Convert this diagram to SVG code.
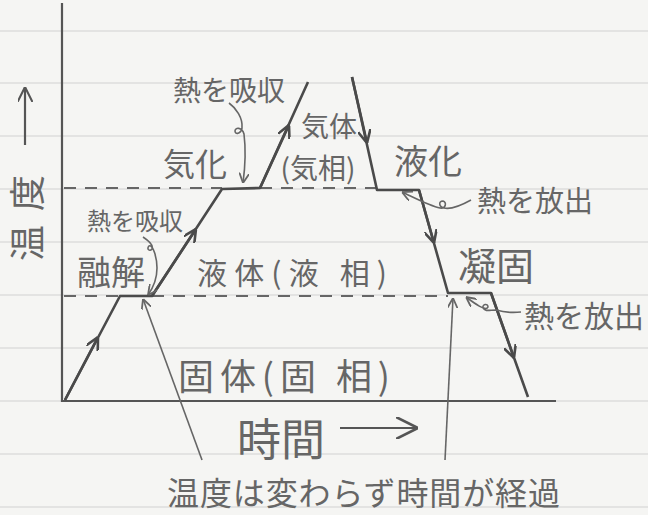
<svg xmlns="http://www.w3.org/2000/svg" width="648" height="515" viewBox="0 0 648 515">
<defs>
<style>
.rule{stroke:#d2d2d2;stroke-width:1.2}
.axis{stroke:#555;stroke-width:2.2;fill:none}
.curve{stroke:#4a4a4a;stroke-width:2.6;fill:none;stroke-linejoin:round}
.dash{stroke:#666;stroke-width:2;stroke-dasharray:12 9;fill:none}
.ptr{stroke:#666;stroke-width:1.6;fill:none}
.lbl{font-family:"Noto Sans CJK JP","Noto Sans",sans-serif;fill:#666}
</style>
<marker id="chev" viewBox="0 0 10 10" refX="10" refY="5" markerWidth="13" markerHeight="13" markerUnits="userSpaceOnUse" orient="auto"><path d="M0,0 L10,5 L0,10" fill="none" stroke="#4a4a4a" stroke-width="2"/></marker>
<marker id="chevS" viewBox="0 0 10 10" refX="10" refY="5" markerWidth="10" markerHeight="10" markerUnits="userSpaceOnUse" orient="auto"><path d="M0,0 L10,5 L0,10" fill="none" stroke="#666" stroke-width="1.8"/></marker>
<marker id="chevL" viewBox="0 0 10 10" refX="10" refY="5" markerWidth="22" markerHeight="22" markerUnits="userSpaceOnUse" orient="auto"><path d="M0,0 L10,5 L0,10" fill="none" stroke="#555" stroke-width="1.2"/></marker>
<marker id="chevA" viewBox="0 0 10 10" refX="10" refY="5" markerWidth="15" markerHeight="15" markerUnits="userSpaceOnUse" orient="auto"><path d="M0,0 L10,5 L0,10" fill="none" stroke="#555" stroke-width="1.4"/></marker>
</defs>
<rect width="648" height="515" fill="#f5f5f3"/>
<g id="paper">
<line class="rule" x1="0" y1="31" x2="648" y2="31"/>
<line class="rule" x1="0" y1="83" x2="648" y2="83"/>
<line class="rule" x1="0" y1="136" x2="648" y2="136"/>
<line class="rule" x1="0" y1="189" x2="648" y2="189"/>
<line class="rule" x1="0" y1="242" x2="648" y2="242"/>
<line class="rule" x1="0" y1="295" x2="648" y2="295"/>
<line class="rule" x1="0" y1="348" x2="648" y2="348"/>
<line class="rule" x1="0" y1="401" x2="648" y2="401"/>
<line class="rule" x1="0" y1="454" x2="648" y2="454"/>
<line class="rule" x1="0" y1="507" x2="648" y2="507"/>
</g>
<g id="axes">
<path class="axis" d="M62,3 L62,401 L556,401"/>
</g>
<g id="connectors">
<path class="dash" d="M64,188 L222,188 M260,188 L377,188"/>
<path class="dash" d="M64,296 L120,296 M152,296 L448,296"/>
<path class="curve" d="M65,400 L120,296 L152,296 L222,189 L260,188 L308,82"/>
<path class="curve" d="M352,77 L377,190 L419,190 L448,293 L491,293 L528,397"/>
<path class="curve" d="M65,400 L98,337" marker-end="url(#chev)"/>
<path class="curve" d="M152,296 L196,229" marker-end="url(#chev)"/>
<path class="curve" d="M260,188 L289,125" marker-end="url(#chev)"/>
<path class="curve" d="M352,77 L367,143" marker-end="url(#chev)"/>
<path class="curve" d="M419,190 L434,243" marker-end="url(#chev)"/>
<path class="curve" d="M491,293 L514,358" marker-end="url(#chev)"/>
<path class="ptr" d="M229,103 C236,108 243,118 242,128 C241,134 235,135 235,131 C235,127 242,127 244,134 C246,150 245,168 243,183" marker-end="url(#chevS)"/>
<path class="ptr" d="M471,200 C462,205 452,210 444,208 C439,207 438,201 443,201 C447,202 446,209 440,208 C430,206 415,198 402,192" marker-end="url(#chevS)"/>
<path class="ptr" d="M143,237 C149,241 154,245 152,249 C150,252 146,249 149,246 C153,244 157,258 157,268 C157,280 153,288 148,295" marker-end="url(#chevS)"/>
<path class="ptr" d="M521,312 C512,313 503,312 496,310 C490,310 485,312 483,308 C482,304 488,303 488,307 C486,312 474,303 466,297" marker-end="url(#chevS)"/>
<path class="ptr" d="M202,460 L143,299" marker-end="url(#chevS)"/>
<path class="ptr" d="M445,460 L453,298" marker-end="url(#chevS)"/>
<path class="axis" d="M25,145 L25,87" stroke-width="1.8" marker-end="url(#chevA)"/>
<path class="axis" d="M340,428 L418,428" stroke-width="1.8" marker-end="url(#chevL)"/>
</g>
<g id="label-temp"><text class="lbl" font-size="36" dominant-baseline="central" textLength="86" lengthAdjust="spacing" transform="translate(25,261) rotate(-90)">温度</text></g>
<g id="label-heat1"><text class="lbl" x="229" y="101" font-size="28" text-anchor="middle">熱を吸収</text></g>
<g id="label-vaporize"><text class="lbl" x="195" y="176" font-size="32" text-anchor="middle">気化</text></g>
<g id="label-gas"><text class="lbl" x="329" y="137" font-size="28" text-anchor="middle">気体</text></g>
<g id="label-gasphase"><text class="lbl" x="318" y="179" font-size="28" text-anchor="middle">(気相)</text></g>
<g id="label-condense"><text class="lbl" x="428" y="174" font-size="34" text-anchor="middle">液化</text></g>
<g id="label-release1"><text class="lbl" x="535" y="212" font-size="29" text-anchor="middle">熱を放出</text></g>
<g id="label-heat2"><text class="lbl" x="135" y="230" font-size="24" text-anchor="middle">熱を吸収</text></g>
<g id="label-melt"><text class="lbl" x="111" y="285" font-size="34" text-anchor="middle">融解</text></g>
<g id="label-liquid"><text class="lbl" x="197" y="284" font-size="30" textLength="190" lengthAdjust="spacing">液体(液 相)</text></g>
<g id="label-freeze"><text class="lbl" x="496" y="280" font-size="38" text-anchor="middle">凝固</text></g>
<g id="label-release2"><text class="lbl" x="524" y="327" font-size="30">熱を放出</text></g>
<g id="label-solid"><text class="lbl" x="178" y="390" font-size="36" textLength="212" lengthAdjust="spacing">固体(固 相)</text></g>
<g id="label-time"><text class="lbl" x="237" y="456" font-size="44">時間</text></g>
<g id="label-note"><text class="lbl" x="167" y="505" font-size="32" textLength="393" lengthAdjust="spacing">温度は変わらず時間が経過</text></g>
</svg>
